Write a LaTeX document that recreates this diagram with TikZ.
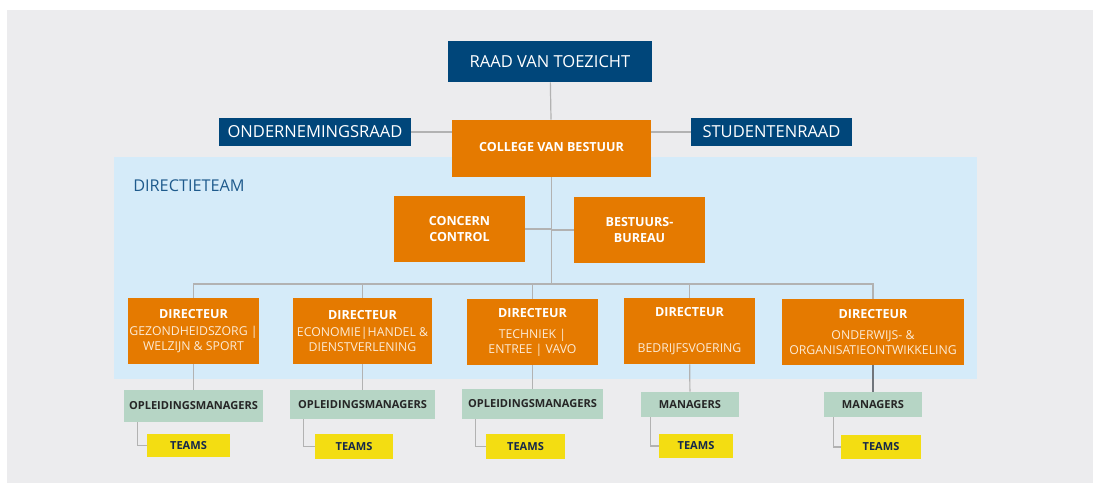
\documentclass[tikz,border=0pt]{standalone}
\usepackage{fontspec}
\setmainfont{Open Sans}
\usepackage{tikz}
\definecolor{bgcol}{HTML}{ECECEE}
\definecolor{panelcol}{HTML}{D5EBF9}
\definecolor{boardblue}{HTML}{00467A}
\definecolor{teamblue}{HTML}{1E5A8C}
\definecolor{headorange}{HTML}{E57A00}
\definecolor{mgrgreen}{HTML}{B6D5C5}
\definecolor{teamyellow}{HTML}{F3DD12}
\definecolor{linecol}{HTML}{B2B2B2}
\definecolor{darklinecol}{HTML}{70757B}
\definecolor{teamtext}{HTML}{15284B}
\definecolor{subtext}{HTML}{FCEBD6}
\newcommand{\sub}[1]{{\mdseries\color{subtext}\fontsize{9.2}{11}\selectfont #1}}

\begin{document}
\begin{tikzpicture}[x=0.75pt,y=-0.75pt,
    every node/.style={inner sep=0pt, align=center},
    boxsize/.style 2 args={minimum width=#1*0.75pt, minimum height=#2*0.75pt},
    board/.style={fill=boardblue, text=white, font=\fontsize{12.4}{14}\selectfont},
    head/.style={fill=headorange, text=white, font=\bfseries\fontsize{9.4}{11.5}\selectfont},
    dirbox/.style={fill=headorange, text=white, font=\bfseries\fontsize{9.4}{11}\selectfont, boxsize={#1}{66}},
    mgr/.style={fill=mgrgreen, text=black!85, font=\bfseries\fontsize{8.3}{9}\selectfont},
    team/.style={fill=teamyellow, text=teamtext, font=\bfseries\fontsize{8.3}{9}\selectfont},
    link/.style={draw=linecol, line width=0.9pt}]
  \useasboundingbox (0,0) rectangle (1093,483);
  \fill[bgcol] (7,10) rectangle (1093,483);
  \fill[panelcol] (114,157) rectangle (977,379);
  \node[anchor=west, text=teamblue, font=\fontsize{12.2}{13}\selectfont] (dt) at (133,186) {DIRECTIETEAM};

  \node[board, boxsize={204}{41}] (rvt) at (550,61.5) {RAAD VAN TOEZICHT};
  \node[board, boxsize={192}{28}] (or) at (315,132) {ONDERNEMINGSRAAD};
  \node[board, boxsize={161}{28}] (sr) at (771.5,132) {STUDENTENRAAD};
  \node[head, boxsize={199}{57}] (cvb) at (551.5,148.5) {\raisebox{2pt}{COLLEGE VAN BESTUUR}};
  \node[head, boxsize={131}{66}] (cc) at (459.5,229) {CONCERN\\CONTROL};
  \node[head, boxsize={131}{66}] (bb) at (639.5,230) {BESTUURS-\\BUREAU};

  \node[dirbox=131] (d1) at (193.5,331) {DIRECTEUR\\[2pt]\sub{GEZONDHEIDSZORG |}\\\sub{WELZIJN \& SPORT}};
  \node[dirbox=139] (d2) at (362.5,331) {DIRECTEUR\\[2pt]\sub{ECONOMIE|HANDEL \&}\\\sub{DIENSTVERLENING}};
  \node[dirbox=131] (d3) at (532.5,332) {DIRECTEUR\\[5pt]\sub{TECHNIEK |}\\\sub{ENTREE | VAVO}};
  \node[dirbox=131] (d4) at (689.5,331) {\raisebox{2pt}{DIRECTEUR}\\[14pt]\sub{BEDRIJFSVOERING}};
  \node[dirbox=182] (d5) at (873,332) {DIRECTEUR\\[5pt]\sub{ONDERWIJS- \&}\\\sub{ORGANISATIEONTWIKKELING}};

  \node[mgr, boxsize={139}{32}] (om1) at (193.5,406) {OPLEIDINGSMANAGERS};
  \node[mgr, boxsize={145}{29}] (om2) at (362.5,404.5) {OPLEIDINGSMANAGERS};
  \node[mgr, boxsize={141}{30}] (om3) at (532.5,404) {OPLEIDINGSMANAGERS};
  \node[mgr, boxsize={98}{25}] (m4) at (690,404.5) {MANAGERS};
  \node[mgr, boxsize={98}{25}] (m5) at (873,404.5) {MANAGERS};

  \node[team, boxsize={83}{23}] (t1) at (188.5,445.5) {TEAMS};
  \node[team, boxsize={78}{25}] (t2) at (354,446.5) {TEAMS};
  \node[team, boxsize={79}{25}] (t3) at (525.5,446.5) {TEAMS};
  \node[team, boxsize={74}{24}] (t4) at (696,446) {TEAMS};
  \node[team, boxsize={80}{24}] (t5) at (881,447) {TEAMS};

  \coordinate (bus) at (551.5,284);
  \draw[link] (rvt) -- (cvb);
  \draw[link] (or) -- (or -| cvb.west);
  \draw[link] (sr) -- (sr -| cvb.east);
  \draw[link] (cvb) -- (bus);
  \draw[link] (cc) -- (cc -| bus);
  \draw[link] (bb) -- (bb -| bus);
  \draw[link] (d1) |- (bus) -| (d5);
  \foreach \d in {d2,d3,d4}
    \draw[link] (\d) -- (\d |- bus);
  \foreach \d/\m in {d1/om1,d2/om2,d3/om3,d4/m4}
    \draw[link] (\d) -- (\m);
  \draw[link, draw=darklinecol, line width=1.3pt] (d5) -- (m5);
  \foreach \m/\t in {om1/t1,om2/t2,om3/t3}
    \draw[link] ([xshift=10.5pt]\m.south west) |- (\t);
  \foreach \m/\t in {m4/t4,m5/t5}
    \draw[link] ([xshift=7.5pt]\m.south west) |- (\t);
\end{tikzpicture}
\end{document}
